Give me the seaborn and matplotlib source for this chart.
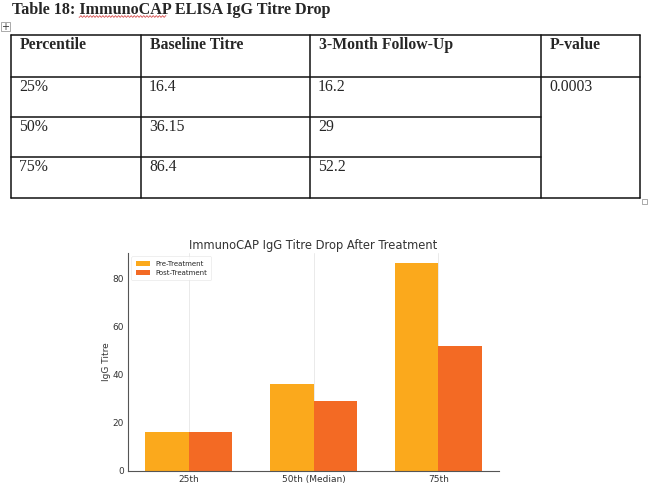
# Tabela + gráfico de barras do título de IgG (ImmunoCAP)
import matplotlib
matplotlib.use('Agg')
import matplotlib.pyplot as plt
from matplotlib import font_manager
import seaborn as sns
import pandas as pd
import numpy as np

# dados da tabela
cabecalho = ['Percentile', 'Baseline Titre', '3-Month Follow-Up', 'P-value']
percentis = ['25%', '50%', '75%']
baseline = ['16.4', '36.15', '86.4']
followup = ['16.2', '29', '52.2']
p_valor = '0.0003'

# dados do gráfico
categorias = ['25th', '50th (Median)', '75th']
pre_tratamento = [16.4, 36.15, 86.4]
pos_tratamento = [16.2, 29, 52.2]
grupos = ['Pre-Treatment', 'Post-Treatment']
cores = ['#FBA91C', '#F36A24']


def achar_fonte(nome, negrito):
    # procura o arquivo da fonte direto na lista do matplotlib
    for f in font_manager.fontManager.ttflist:
        if f.name == nome and f.style == 'normal':
            if (f.weight == 'bold' or f.weight == 700) == negrito:
                return font_manager.FontProperties(fname=f.fname)
    return font_manager.FontProperties(family='serif',
                                       weight='bold' if negrito else 'normal')


sns.set_style('white')
W, H = 650, 483
fig = plt.figure(figsize=(6.5, 4.83), dpi=100)

fp_reg = achar_fonte('Liberation Serif', False)
fp_bold = achar_fonte('Liberation Serif', True)

# ---- parte da tabela (coordenadas em pixels) ----
tab = fig.add_axes([0, 0, 1, 1])
tab.set_xlim(0, W)
tab.set_ylim(H, 0)
tab.axis('off')

fp_tit = fp_bold.copy()
fp_tit.set_size(11.6)
tab.text(12, 9.5, 'Table 18: ImmunoCAP ELISA IgG Titre Drop',
         fontproperties=fp_tit, va='center', ha='left')
# sublinhado ondulado do corretor
xs = np.linspace(79, 166, 300)
tab.plot(xs, 16.5 + 0.8 * np.sin(xs * 2.0), color='#d03030', lw=0.5)
# ícone de mover tabela
tab.add_patch(plt.Rectangle((1, 22), 9, 9, fill=False, lw=0.5, ec='#888888'))
tab.text(5.5, 26.5, '+', fontsize=7, ha='center', va='center', color='#333333')
tab.add_patch(plt.Rectangle((642, 199), 5, 5, fill=False, lw=0.5, ec='#888888'))

cols = [11, 141, 310, 541, 640]
rows = [35, 77, 117, 157, 198]
lc = '#111111'
for x in cols:
    tab.plot([x, x], [rows[0], rows[-1]], color=lc, lw=1.1)
tab.plot([cols[0], cols[-1]], [rows[0], rows[0]], color=lc, lw=1.1)
tab.plot([cols[0], cols[-1]], [rows[1], rows[1]], color=lc, lw=1.1)
tab.plot([cols[0], cols[-1]], [rows[-1], rows[-1]], color=lc, lw=1.1)
for y in rows[2:-1]:
    tab.plot([cols[0], cols[3]], [y, y], color=lc, lw=1.1)

fp_h = fp_bold.copy()
fp_h.set_size(11.3)
fp_c = fp_reg.copy()
fp_c.set_size(11.3)
for j, txt in enumerate(cabecalho):
    tab.text(cols[j] + 9, rows[0] + 10, txt, fontproperties=fp_h,
             va='center', ha='left')
for i in range(3):
    for j, txt in enumerate([percentis[i], baseline[i], followup[i]]):
        tab.text(cols[j] + 8, rows[i + 1] + 10, txt, fontproperties=fp_c,
                 va='center', ha='left')
tab.text(cols[3] + 8, rows[1] + 10, p_valor, fontproperties=fp_c,
         va='center', ha='left')

# ---- gráfico de barras ----
df = pd.DataFrame({
    'Percentil': categorias * 2,
    'Titre': pre_tratamento + pos_tratamento,
    'Grupo': [grupos[0]] * 3 + [grupos[1]] * 3,
})

ax = fig.add_axes([128 / W, 1 - 471 / H, (499 - 128) / W, (471 - 253) / H])
sns.barplot(data=df, x='Percentil', y='Titre', hue='Grupo', palette=cores,
            width=0.7, saturation=1, linewidth=0, ax=ax, zorder=2)
ax.set_xlim(-0.485, 2.485)
ax.set_ylim(0, 90.7)
ax.set_yticks([0, 20, 40, 60, 80])
ax.grid(axis='x', color='#e6e6e6', lw=0.6, zorder=0)
ax.set_axisbelow(True)
sns.despine(ax=ax)
for s in ['left', 'bottom']:
    ax.spines[s].set_color('#555555')
    ax.spines[s].set_linewidth(0.8)
ax.tick_params(labelsize=6.5, colors='#333333', length=2, width=0.6, pad=1)
ax.set_xlabel('')
ax.set_ylabel('IgG Titre', fontsize=6.5, color='#333333', labelpad=1)
ax.set_title('ImmunoCAP IgG Titre Drop After Treatment', fontsize=8.3,
             color='#333333', pad=3)
leg = ax.legend(loc='upper left', fontsize=5, frameon=True, borderpad=0.6,
                handlelength=2, labelspacing=0.5)
leg.get_frame().set_linewidth(0.4)
leg.get_frame().set_edgecolor('#dddddd')

fig.savefig('out.png', dpi=100)
